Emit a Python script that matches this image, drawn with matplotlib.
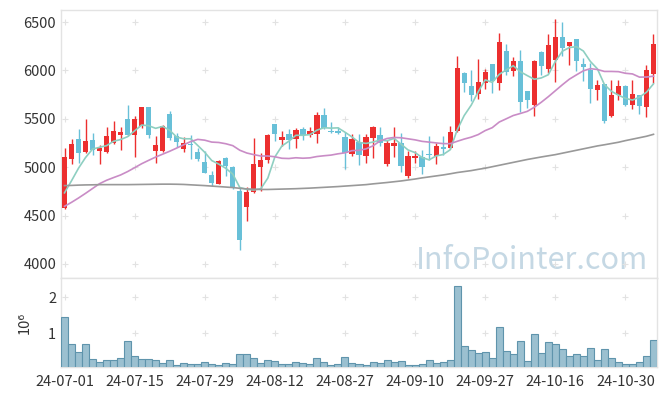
import matplotlib
matplotlib.use("Agg")
import matplotlib.pyplot as plt
import numpy as np
import pandas as pd

# daily OHLC, 85 trading days from 24-07-01
open_ = [4580, 5085, 5295, 5155, 5285, 5170, 5155, 5255, 5330, 5500,
         5330, 5430, 5620, 5165, 5165, 5555, 5325, 5190, 5245, 5155,
         5050, 4915, 4830, 5100, 5000, 4750, 4585, 4745, 5000, 5070,
         5450, 5280, 5345, 5290, 5395, 5335, 5345, 5540, 5375, 5375,
         5315, 5140, 5260, 5115, 5300, 5335, 5035, 5220, 5250, 4905,
         5100, 5110, 5140, 5120, 5210, 5195, 5370, 5975, 5840, 5760,
         5875, 6070, 5875, 6205, 5990, 6100, 5785, 5645, 6195, 6015,
         6110, 6350, 6250, 6325, 6070, 6005, 5795, 5855, 5525, 5750,
         5840, 5645, 5750, 5620, 5965]
high = [5200, 5295, 5395, 5500, 5355, 5230, 5420, 5480, 5420, 5645,
        5525, 5625, 5620, 5325, 5440, 5585, 5355, 5310, 5330, 5200,
        5165, 4965, 5070, 5110, 5015, 4785, 4800, 5300, 5145, 5340,
        5450, 5370, 5395, 5410, 5415, 5420, 5570, 5615, 5465, 5420,
        5360, 5345, 5345, 5345, 5425, 5420, 5285, 5415, 5355, 5165,
        5170, 5180, 5325, 5255, 5320, 5430, 6145, 5980, 6010, 6120,
        6015, 6070, 6385, 6275, 6135, 6215, 5790, 6110, 6200, 6380,
        6530, 6505, 6290, 6330, 6130, 6075, 5905, 5860, 5905, 5905,
        5845, 5905, 5750, 6060, 6375]
low = [4570, 5035, 5045, 5150, 5130, 5035, 5150, 5245, 5175, 5325,
       5105, 5410, 5300, 5045, 5160, 5285, 5205, 5155, 5080, 5060,
       4940, 4810, 4825, 4905, 4770, 4140, 4440, 4735, 4755, 5045,
       5270, 5215, 5190, 5200, 5285, 5310, 5255, 5400, 5350, 5345,
       4985, 5120, 5025, 5045, 5095, 5215, 5010, 5110, 4950, 4890,
       5045, 4925, 5070, 5035, 5130, 5190, 5365, 5775, 5680, 5700,
       5810, 5765, 5800, 5955, 5940, 5575, 5610, 5525, 5955, 5975,
       5885, 6145, 6060, 5990, 5895, 5665, 5695, 5455, 5515, 5695,
       5635, 5605, 5545, 5515, 5870]
close = [5110, 5235, 5145, 5270, 5180, 5200, 5320, 5370, 5360, 5330,
         5500, 5620, 5335, 5225, 5430, 5300, 5265, 5250, 5225, 5085,
         4945, 4840, 5065, 5010, 4785, 4250, 4745, 5035, 5075, 5335,
         5340, 5310, 5285, 5380, 5335, 5375, 5540, 5410, 5360, 5350,
         5150, 5295, 5125, 5310, 5420, 5255, 5255, 5250, 5010, 5120,
         5120, 5000, 5130, 5215, 5190, 5365, 6025, 5875, 5750, 5885,
         5980, 5895, 6290, 5980, 6100, 5670, 5695, 6100, 6050, 6265,
         6350, 6230, 6290, 6095, 6040, 5810, 5850, 5475, 5750, 5840,
         5645, 5760, 5630, 6000, 6275]
# volume, millions of shares
volume_m = [1.44, 0.70, 0.48, 0.70, 0.28, 0.19, 0.26, 0.26, 0.31, 0.79,
            0.37, 0.28, 0.28, 0.26, 0.17, 0.26, 0.11, 0.17, 0.15, 0.15,
            0.19, 0.15, 0.11, 0.17, 0.15, 0.42, 0.42, 0.31, 0.17, 0.26,
            0.23, 0.15, 0.15, 0.21, 0.17, 0.15, 0.31, 0.19, 0.11, 0.14,
            0.33, 0.17, 0.14, 0.11, 0.19, 0.17, 0.26, 0.19, 0.22, 0.11,
            0.11, 0.14, 0.26, 0.17, 0.19, 0.26, 2.31, 0.64, 0.53, 0.44,
            0.47, 0.31, 1.17, 0.50, 0.42, 0.78, 0.22, 0.97, 0.44, 0.75,
            0.69, 0.56, 0.36, 0.42, 0.36, 0.58, 0.25, 0.56, 0.31, 0.19,
            0.14, 0.14, 0.19, 0.36, 0.81]

# moving averages need history before 24-07-01: read those points off the chart
ma5_head = [4735, 4860, 4990, 5100]
ma20_head = [4596, 4637, 4682, 4730, 4780, 4830, 4865, 4893, 4920, 4955,
             4995, 5036, 5071, 5105, 5135, 5165, 5198, 5232, 5265]
ma_long = [4810, 4812, 4815, 4817, 4818, 4820, 4820, 4820, 4820, 4820,
           4821, 4822, 4823, 4824, 4825, 4825, 4824, 4822, 4818, 4814,
           4810, 4805, 4800, 4795, 4790, 4782, 4776, 4772, 4770, 4770,
           4772, 4774, 4776, 4778, 4781, 4784, 4788, 4792, 4796, 4800,
           4805, 4810, 4815, 4820, 4828, 4835, 4842, 4850, 4858, 4868,
           4878, 4890, 4900, 4910, 4920, 4932, 4945, 4955, 4965, 4978,
           4990, 5005, 5020, 5035, 5050, 5065, 5080, 5093, 5106, 5118,
           5130, 5145, 5160, 5175, 5190, 5205, 5220, 5232, 5245, 5258,
           5275, 5290, 5305, 5320, 5340]

tick_labels = ["24-07-01", "24-07-15", "24-07-29", "24-08-12", "24-08-27",
               "24-09-10", "24-09-27", "24-10-16", "24-10-30"]

o = np.array(open_, dtype=float)
h = np.array(high, dtype=float)
l = np.array(low, dtype=float)
c = np.array(close, dtype=float)
vol = np.array(volume_m)
n = len(c)
x = np.arange(n)

ma5 = pd.Series(c).rolling(5).mean().to_numpy()
ma5[:4] = ma5_head
ma20 = pd.Series(c).rolling(20).mean().to_numpy()
ma20[:19] = ma20_head

plt.rcParams["font.family"] = ["Noto Sans CJK KR", "DejaVu Sans"]

UP = "#ec2f2f"
DOWN = "#68c0d8"
FRAME = "#e3e3e3"
TEXT = "#333333"

fig = plt.figure(figsize=(6.65, 3.96), dpi=100)
ax = fig.add_axes([61 / 665, 1 - 278 / 396, 596 / 665, 268 / 396])
axv = fig.add_axes([61 / 665, 1 - 367 / 396, 596 / 665, 89 / 396], sharex=ax)

up = c >= o
colors = np.where(up, UP, DOWN)
ax.vlines(x, l, h, colors=colors, linewidth=1.0, zorder=2)
body_lo = np.minimum(o, c)
body_h = np.maximum(np.abs(c - o), 8)
ax.bar(x, body_h, bottom=body_lo, width=0.75, color=colors, linewidth=0, zorder=3)

ax.plot(x, ma5, color="#8ecfc1", linewidth=1.2, zorder=4)
ax.plot(x, ma20, color="#c98cc6", linewidth=1.2, zorder=4)
ax.plot(x, ma_long, color="#999999", linewidth=1.2, zorder=4)

axv.bar(x, vol, width=1.0, color="#9bc0d0", edgecolor="#5f94ac", linewidth=0.8, zorder=3)

xticks = np.arange(0, n, 10)
yticks = np.arange(4000, 6501, 500)
vticks = [1, 2]

ax.set_xlim(-0.5, n - 0.5)
ax.set_ylim(3855, 6625)
axv.set_ylim(0.064, 2.536)

# grid drawn as small crosses at the tick intersections
gx, gy = np.meshgrid(xticks, yticks)
ax.plot(gx.ravel(), gy.ravel(), "+", color="#e2e2e2", markersize=4.5, markeredgewidth=0.8, zorder=1)
gx, gy = np.meshgrid(xticks, vticks)
axv.plot(gx.ravel(), gy.ravel(), "+", color="#e2e2e2", markersize=4.5, markeredgewidth=0.8, zorder=1)

ax.set_yticks(yticks)
ax.set_yticklabels([str(t) for t in yticks])
axv.set_yticks(vticks)
axv.set_xticks(xticks)
axv.set_xticklabels(tick_labels)
ax.tick_params(axis="x", labelbottom=False, length=0)

for a in (ax, axv):
    a.tick_params(axis="both", length=0, colors=TEXT, labelsize=10.5)
    for s in a.spines.values():
        s.set_color(FRAME)
        s.set_linewidth(1.0)
axv.tick_params(axis="x", pad=6)

axv.set_ylabel("10⁶", color=TEXT, fontsize=10.5, labelpad=12)

ax.text(0.985, 0.035, "InfoPointer.com", transform=ax.transAxes, ha="right", va="baseline",
        fontsize=22, color="#c5d8e4", zorder=0)

fig.savefig("out.png", dpi=100)
